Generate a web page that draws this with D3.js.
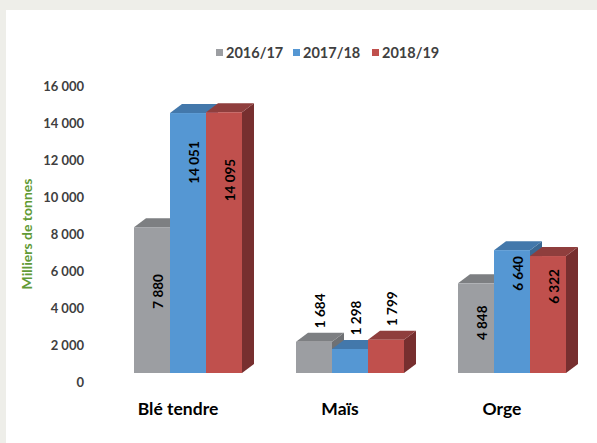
<!DOCTYPE html>
<html>
<head>
<meta charset="utf-8">
<script src="https://cdn.jsdelivr.net/npm/d3@7"></script>
<style>
  body { margin: 0; background: #eeeee9; }
  svg { display: block; }
  text { font-family: Lato, "Open Sans", sans-serif; font-weight: bold; }
</style>
</head>
<body>
<script>
var categories = ["Blé tendre", "Maïs", "Orge"];
var series = ["2016/17", "2017/18", "2018/19"];
var values2016 = [7880, 1684, 4848];
var values2017 = [14051, 1298, 6640];
var values2018 = [14095, 1799, 6322];
var yTicks = [0, 2000, 4000, 6000, 8000, 10000, 12000, 14000, 16000];

var front = ["#9c9ea2", "#5597d3", "#c0504d"],
    top_ = ["#7d7f82", "#4378ab", "#8f3e3d"],
    side = ["#6f7174", "#3a6893", "#772f2f"];
// where the rotated label sits inside each series' bar (fraction of value)
var labelFrac = [0.56, 0.81, 0.74];

var W = 597, H = 443;
var dx = 12, dy = 9;

var svg = d3.select("body").append("svg")
    .attr("width", W)
    .attr("height", H);

// white panel
svg.append("rect")
    .attr("x", 6).attr("y", 10)
    .attr("width", W - 6).attr("height", H - 10)
    .attr("fill", "#fff");

var y = d3.scaleLinear()
    .domain([0, 16000])
    .range([373, 77]);

var x0 = d3.scaleBand()
    .domain(categories)
    .range([107, 593])
    .paddingInner(1/3)
    .paddingOuter(1/6);

var x1 = d3.scaleBand()
    .domain(series)
    .range([0, x0.bandwidth()]);

var fmt = function(v) { return d3.format(",")(v).replace(/,/g, " "); };

// y axis labels (sit on the back floor, a bit lower than the front face)
svg.append("g").selectAll("text")
    .data(yTicks)
  .enter().append("text")
    .attr("x", 84)
    .attr("y", function(d) { return y(d) + dy; })
    .attr("dy", "0.35em")
    .attr("text-anchor", "end")
    .attr("font-size", 13)
    .attr("fill", "#404040")
    .text(fmt);

svg.append("text")
    .attr("transform", "translate(32,234) rotate(-90)")
    .attr("text-anchor", "middle")
    .attr("font-size", 14)
    .attr("fill", "#619a35")
    .text("Milliers de tonnes");

var rows = [];
categories.forEach(function(c, i) {
    [values2016, values2017, values2018].forEach(function(vals, j) {
        rows.push({cat: c, s: j, value: vals[i]});
    });
});

var bar = svg.append("g").selectAll("g")
    .data(rows)
  .enter().append("g");

bar.each(function(d) {
    var g = d3.select(this),
        x = x0(d.cat) + x1(series[d.s]),
        w = x1.bandwidth(),
        yt = y(d.value), yb = y(0);
    // side
    g.append("path")
        .attr("d", "M" + (x + w) + "," + yt + "L" + (x + w + dx) + "," + (yt - dy) +
             "L" + (x + w + dx) + "," + (yb - dy) + "L" + (x + w) + "," + yb + "Z")
        .attr("fill", side[d.s]);
    // top
    g.append("path")
        .attr("d", "M" + x + "," + yt + "L" + (x + dx) + "," + (yt - dy) +
             "L" + (x + w + dx) + "," + (yt - dy) + "L" + (x + w) + "," + yt + "Z")
        .attr("fill", top_[d.s]);
    // front
    g.append("rect")
        .attr("x", x).attr("y", yt)
        .attr("width", w).attr("height", yb - yt)
        .attr("fill", front[d.s]);
});

// value labels
bar.append("text")
    .attr("transform", function(d) {
        var cx = x0(d.cat) + x1(series[d.s]) + x1.bandwidth() / 2 + dx / 2;
        var cy = d.value > 3000 ? y(d.value * labelFrac[d.s]) : y(d.value) - dy - 22;
        return "translate(" + cx + "," + cy + ") rotate(-90)";
    })
    .attr("text-anchor", "middle")
    .attr("dy", "0.35em")
    .attr("font-size", 13.5)
    .attr("fill", "#000")
    .text(function(d) { return fmt(d.value); });

// category labels
svg.append("g").selectAll("text")
    .data(categories)
  .enter().append("text")
    .attr("x", function(d) { return x0(d) + x0.bandwidth() / 2 - 10; })
    .attr("y", 409)
    .attr("dy", "0.35em")
    .attr("text-anchor", "middle")
    .attr("font-size", 17.5)
    .attr("fill", "#000")
    .text(function(d) { return d; });

// legend
var legX = [216, 293, 372];
var leg = svg.append("g").selectAll("g")
    .data(series)
  .enter().append("g")
    .attr("transform", function(d, i) { return "translate(" + legX[i] + ",53)"; });

leg.append("rect")
    .attr("x", 0).attr("y", -4)
    .attr("width", 7).attr("height", 7)
    .attr("fill", function(d, i) { return front[i]; });

leg.append("text")
    .attr("x", 10)
    .attr("dy", "0.35em")
    .attr("font-size", 14.5)
    .attr("fill", "#404040")
    .text(function(d) { return d; });
</script>
</body>
</html>
